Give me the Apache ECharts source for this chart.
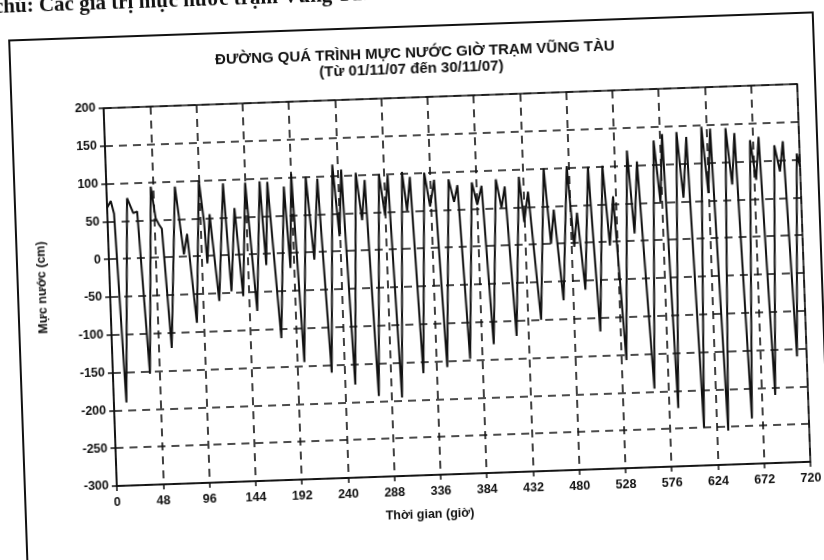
<!DOCTYPE html>
<html><head><meta charset="utf-8">
<script src="https://cdn.jsdelivr.net/npm/echarts/dist/echarts.min.js"></script>
<style>
html,body{margin:0;padding:0;background:#fff;overflow:hidden;width:824px;height:560px;}
#chart{position:absolute;left:-40px;top:-40px;width:904px;height:640px;transform:rotate(-2deg);transform-origin:497px 325px;}
</style></head><body><div id="chart"></div>
<script>
const title1 = 'ĐƯỜNG QUÁ TRÌNH MỰC NƯỚC GIỜ TRẠM VŨNG TÀU';
const title2 = '(Từ 01/11/07 đến 30/11/07)';
const xName = 'Thời gian (giờ)';
const yName = 'Mực nước (cm)';
const caption = 'chú: Các giá trị mực nước trạm Vũng Tàu';

const xMin = 0, xMax = 720, xStep = 48;
const yMin = -300, yMax = 200, yStep = 50;

// turning points: hour, water level (cm)
const hours = [0,4,7,13,21,27,31,38.5,46,50,53,56,62,71,74,78,82,89,96,100,102,106,113,121,126,132,138,144,152,159,163,167,176,184,188,192,199,207,213,219,227,235,240,244,251,259,264,268,275,283,288,292,299,307,311,315,322,330,335,340,347,355,360,364,371,379,384,389,396,404,409,413,420,428,432,437,446,454,459,463,470,478,483,487,493,500,507,515,520,525,533,541,546,551,561,569,574,578,585,593,598,603,611,619,624,628,636,644,649,653,661,669,674,678,686,694,699,703,710,717,720];
const levels = [68,77,60,-190,80,60,62,-153,94,52,44,38,-120,93,55,3,30,-88,100,45,-10,55,-60,95,-48,62,-55,95,-75,96,-15,95,-112,88,-20,105,-145,100,-10,97,-160,115,20,108,-177,103,40,93,-193,100,45,98,-196,102,50,95,-165,100,55,90,-158,90,60,82,-148,85,55,80,-130,88,50,78,-120,90,30,70,-100,100,0,45,-75,102,-5,40,-62,100,-118,101,-5,60,-157,120,10,105,-196,132,50,140,-223,142,55,135,-250,148,60,145,-255,145,70,138,-240,128,75,132,-210,120,85,125,-160,108,90];

const O = 40;
const ink = '#111';
const font = '"Liberation Sans", Arial, sans-serif';

const chart = echarts.init(document.getElementById('chart'), null, {renderer: 'canvas'});
chart.setOption({
  animation: false,
  backgroundColor: '#fff',
  grid: {left: 110 + O, right: 60, top: 96 + O, bottom: 126, show: true, borderColor: ink, borderWidth: 1.6, backgroundColor: 'transparent'},
  xAxis: {
    type: 'value', min: xMin, max: xMax, interval: xStep,
    axisLine: {show: true, onZero: false, lineStyle: {color: ink, width: 1.6}},
    axisTick: {show: true, length: 5, lineStyle: {color: ink, width: 1.5}},
    axisLabel: {color: ink, fontFamily: font, fontWeight: 'bold', fontSize: 12.5, margin: 10},
    splitLine: {show: true, lineStyle: {color: ink, width: 1.6, type: [8, 6]}}
  },
  yAxis: {
    type: 'value', min: yMin, max: yMax, interval: yStep,
    axisLine: {show: true, onZero: false, lineStyle: {color: ink, width: 1.6}},
    axisTick: {show: true, length: 5, lineStyle: {color: ink, width: 1.5}},
    axisLabel: {color: ink, fontFamily: font, fontWeight: 'bold', fontSize: 12.5, margin: 8},
    splitLine: {show: true, lineStyle: {color: ink, width: 1.6, type: [8, 6]}}
  },
  series: [{
    type: 'line',
    data: hours.map((h, i) => [h, levels[i]]),
    showSymbol: false,
    lineStyle: {color: ink, width: 2},
    clip: true
  }],
  graphic: [
    {type: 'rect', shape: {x: 18 + O, y: 25 + O, width: 804, height: 620}, style: {fill: 'none', stroke: ink, lineWidth: 2}, silent: true},
    {type: 'text', x: 423 + O, y: 52 + O, style: {text: title1, fill: ink, font: 'bold 15px ' + font, textAlign: 'center', textVerticalAlign: 'middle'}},
    {type: 'text', x: 419 + O, y: 68 + O, style: {text: title2, fill: ink, font: 'bold 15px ' + font, textAlign: 'center', textVerticalAlign: 'middle'}},
    {type: 'text', x: 43 + O, y: 273 + O, rotation: Math.PI / 2, style: {text: yName, fill: ink, font: 'bold 12.5px ' + font, textAlign: 'center', textVerticalAlign: 'middle'}},
    {type: 'text', x: 422 + O, y: 514 + O, style: {text: xName, fill: ink, font: 'bold 12.5px ' + font, textAlign: 'center', textVerticalAlign: 'middle'}},
    {type: 'text', x: 4 + O, y: 2 + O, style: {text: caption, fill: ink, font: 'bold 21px "Liberation Serif", "Times New Roman", serif', textAlign: 'left', textVerticalAlign: 'bottom'}}
  ]
});
</script></body></html>
